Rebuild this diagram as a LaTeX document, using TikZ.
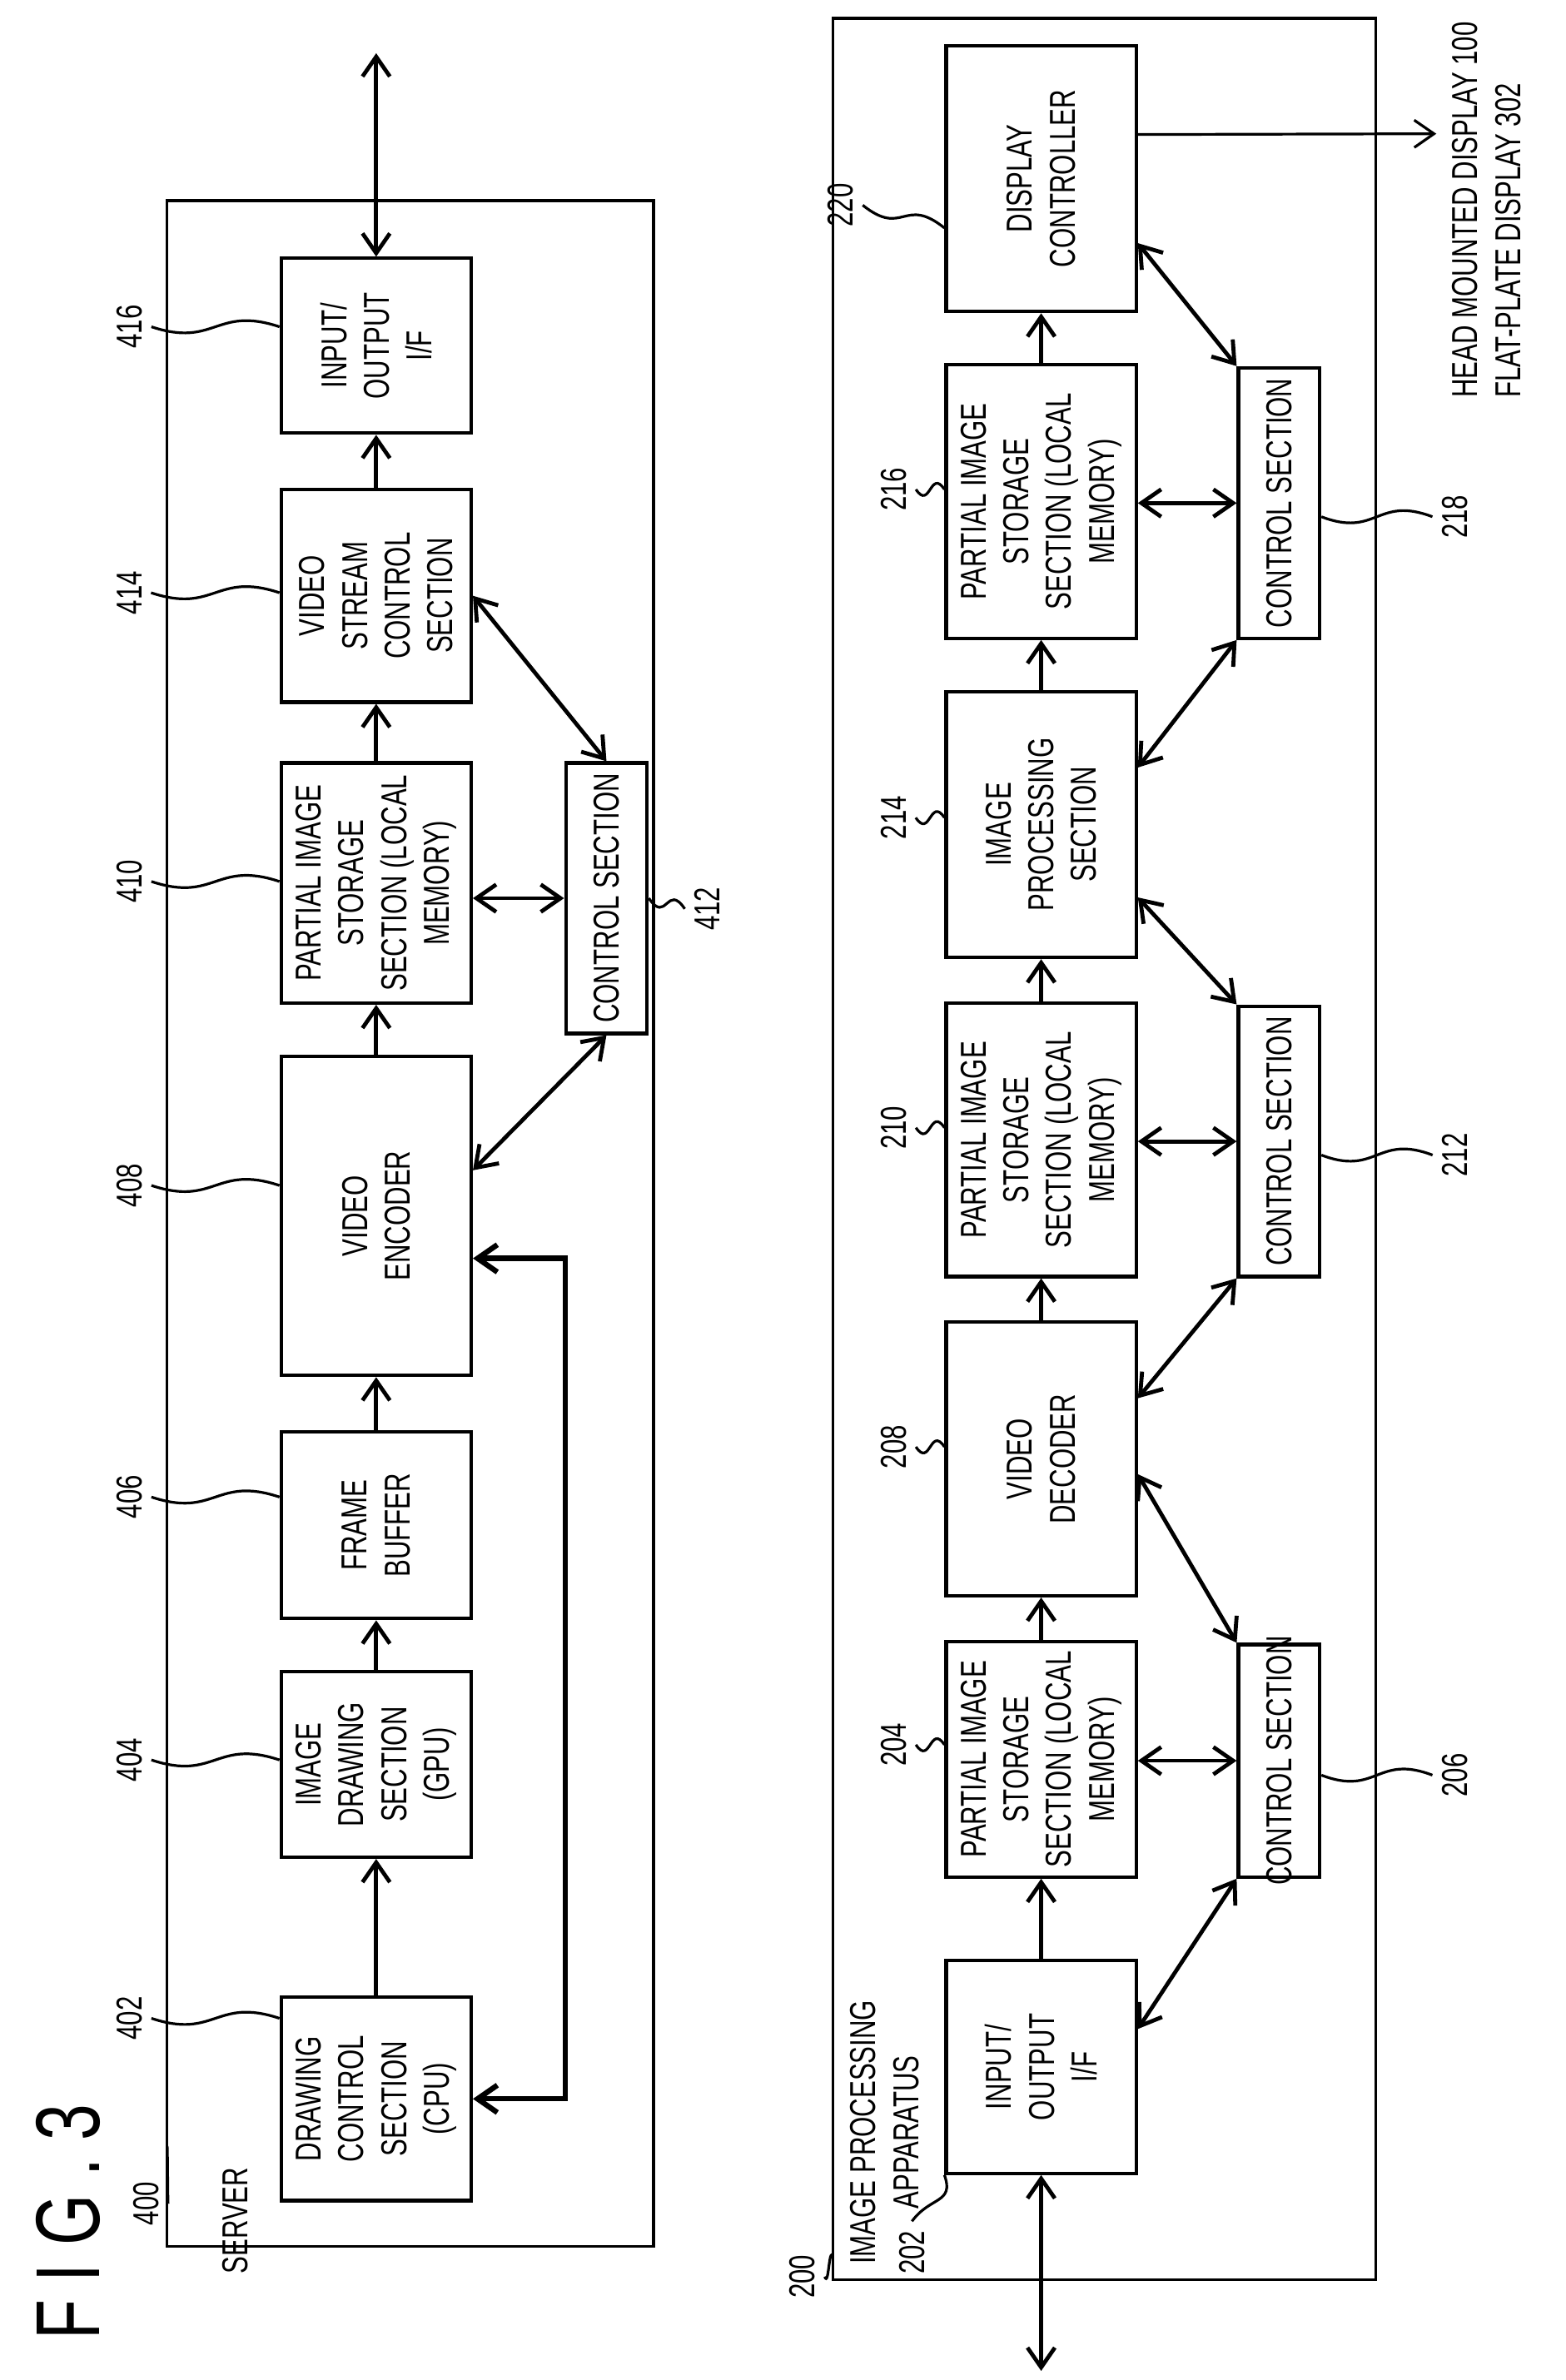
\documentclass[tikz,border=0pt]{standalone}
\usepackage{fontspec}
\setmainfont{Liberation Sans}[FakeStretch=0.72]
\usetikzlibrary{arrows.meta,calc}
\tikzset{
  box/.style={draw, line width=1.3pt, minimum width=2.5cm},
  ctl/.style={draw, line width=1.3pt, minimum width=1.07cm},
  txt/.style={rotate=90, align=center, font=\fontsize{13.5}{16}\selectfont},
  num/.style={rotate=90, font=\fontsize{13.5}{16}\selectfont},
  link/.style={line width=1.5pt, {Straight Barb[length=2.6mm,width=3.6mm]}-{Straight Barb[length=2.6mm,width=3.6mm]}},
  flow/.style={line width=1.5pt, -{Straight Barb[length=2.6mm,width=3.6mm]}},
  lead/.style={line width=1pt}
}
\newcommand\lead[2]{\draw[lead] (#1) .. controls ($(#1)!0.5!(#2)+(0,14)$) and ($(#1)!0.5!(#2)+(0,-14)$) .. (#2);}
\begin{document}
\begin{tikzpicture}[x=0.02cm,y=-0.02cm]
\useasboundingbox (0,0) rectangle (1030,1566);
% server
\draw[line width=1pt] (110,132) rectangle (430,1478);
\node[txt, font=\fontsize{34}{34}\selectfont] (fig) at (45,1462) {F I G . 3};
\node[txt, anchor=east] (srv) at (155,1420) {SERVER};
\node[num] (n400) at (96,1450) {400};
\lead{n400.south}{110,1412}
\node[box, minimum height=2.68cm, label={[txt]center:DRAWING\\CONTROL\\SECTION\\(CPU)}] (cpu) at (247.5,1381) {};
\node[box, minimum height=2.44cm, label={[txt]center:IMAGE\\DRAWING\\SECTION\\(GPU)}] (gpu) at (247.5,1161) {};
\node[box, minimum height=2.46cm, label={[txt]center:FRAME\\BUFFER}] (fbuf) at (247.5,1003.5) {};
\node[box, minimum height=4.2cm, label={[txt]center:VIDEO\\ENCODER}] (enc) at (247.5,800) {};
\node[box, minimum height=3.16cm, label={[txt]center:PARTIAL IMAGE\\STORAGE\\SECTION (LOCAL\\MEMORY)}] (pis410) at (247.5,581) {};
\node[box, minimum height=2.8cm, label={[txt]center:VIDEO\\STREAM\\CONTROL\\SECTION}] (vsc) at (247.5,392) {};
\node[box, minimum height=2.3cm, label={[txt]center:INPUT/\\OUTPUT\\I/F}] (io416) at (247.5,227.5) {};
\node[ctl, minimum height=3.56cm, label={[txt]center:CONTROL SECTION}] (c412) at (399,591) {};
\coordinate (top416) at (247.5,35);
\coordinate (fb) at (372,1381);
\draw[flow] (cpu) -- (gpu);
\draw[flow] (gpu) -- (fbuf);
\draw[flow] (fbuf) -- (enc);
\draw[flow] (enc) -- (pis410);
\draw[flow] (pis410) -- (vsc);
\draw[flow] (vsc) -- (io416);
\draw[link] (io416.north) -- (top416);
\draw[link, line width=2pt] (cpu.east) -- (fb) |- ([yshift=-0.56cm]enc.east);
\draw[link] (pis410.east |- c412.west) -- (c412.west);
\draw[link] (c412.north) -- (vsc.east);
\draw[link] (c412.south) -- ([yshift=0.6cm]enc.east);
\foreach \n/\b/\y in {402/cpu/1328,404/gpu/1158,406/fbuf/985,408/enc/780,410/pis410/580,414/vsc/390,416/io416/215}{
  \node[num] (n\n) at (85,\y) {\n};
  \lead{n\n.south}{\b.west |- 0,\y}
}
\node[num] (n412) at (465,598) {412};
\lead{c412.east}{n412.north}
% image processing apparatus
\draw[line width=1pt] (548,12) rectangle (905,1500);
\node[txt, anchor=west] (ipa) at (582,1496) {IMAGE PROCESSING\\APPARATUS};
\node[num] (n200) at (528,1498) {200};
\lead{n200.south}{548,1485}
\node[box, minimum height=2.8cm, label={[txt]center:INPUT/\\OUTPUT\\I/F}] (io202) at (685,1360) {};
\node[box, minimum height=3.1cm, label={[txt]center:PARTIAL IMAGE\\STORAGE\\SECTION (LOCAL\\MEMORY)}] (pis204) at (685,1157.5) {};
\node[box, minimum height=3.6cm, label={[txt]center:VIDEO\\DECODER}] (dec) at (685,960) {};
\node[box, minimum height=3.6cm, label={[txt]center:PARTIAL IMAGE\\STORAGE\\SECTION (LOCAL\\MEMORY)}] (pis210) at (685,750) {};
\node[box, minimum height=3.5cm, label={[txt]center:IMAGE\\PROCESSING\\SECTION}] (ips) at (685,542.5) {};
\node[box, minimum height=3.6cm, label={[txt]center:PARTIAL IMAGE\\STORAGE\\SECTION (LOCAL\\MEMORY)}] (pis216) at (685,330) {};
\node[box, minimum height=3.5cm, label={[txt]center:DISPLAY\\CONTROLLER}] (disp) at (685,117.5) {};
\node[ctl, minimum height=3.06cm, label={[txt]center:CONTROL SECTION}] (c206) at (841.5,1158.5) {};
\node[ctl, minimum height=3.56cm, label={[txt]center:CONTROL SECTION}] (c212) at (841.5,751) {};
\node[ctl, minimum height=3.56cm, label={[txt]center:CONTROL SECTION}] (c218) at (841.5,331) {};
\coordinate (bot202) at (685,1560);
\coordinate (out) at (945,88);
\draw[link] (io202.south) -- (bot202);
\draw[flow] (io202) -- (pis204);
\draw[flow] (pis204) -- (dec);
\draw[flow] (dec) -- (pis210);
\draw[flow] (pis210) -- (ips);
\draw[flow] (ips) -- (pis216);
\draw[flow] (pis216) -- (disp);
\draw[flow, line width=1pt] ([yshift=0.58cm]disp.east) -- (out);
\node[txt, anchor=west, align=left] (hmd) at (978,268) {HEAD MOUNTED DISPLAY 100\\FLAT-PLATE DISPLAY 302};
\draw[link] (c206.south west) -- ([yshift=0.5cm]io202.east);
\draw[link] (pis204.east |- c206.west) -- (c206.west);
\draw[link] (c206.north west) -- ([yshift=-0.2cm]dec.east);
\draw[link] (c212.south west) -- ([yshift=0.8cm]dec.east);
\draw[link] (pis210.east |- c212.west) -- (c212.west);
\draw[link] (c212.north west) -- ([yshift=-0.96cm]ips.east);
\draw[link] (c218.south west) -- ([yshift=0.75cm]ips.east);
\draw[link] (pis216.east |- c218.west) -- (c218.west);
\draw[link] (c218.north west) -- ([yshift=-0.85cm]disp.east);
\node[num] (n202) at (600,1482) {202};
\draw[lead] (n202.east) .. controls (612,1445) and (628,1450) .. (io202.south west);
\foreach \n/\b/\y in {204/pis204/1148,208/dec/952,210/pis210/742,214/ips/538,216/pis216/322}{
  \node[num] (n\n) at (588,\y) {\n};
  \lead{n\n.south}{\b.west |- 0,\y}
}
\node[num] (n220) at (553,135) {220};
\lead{n220.south}{disp.west |- 0,150}
\foreach \n/\b/\y in {206/c206/1168,212/c212/760,218/c218/340}{
  \node[num] (n\n) at (957,\y) {\n};
  \lead{\b.east |- 0,\y}{n\n.north}
}
\end{tikzpicture}
\end{document}
